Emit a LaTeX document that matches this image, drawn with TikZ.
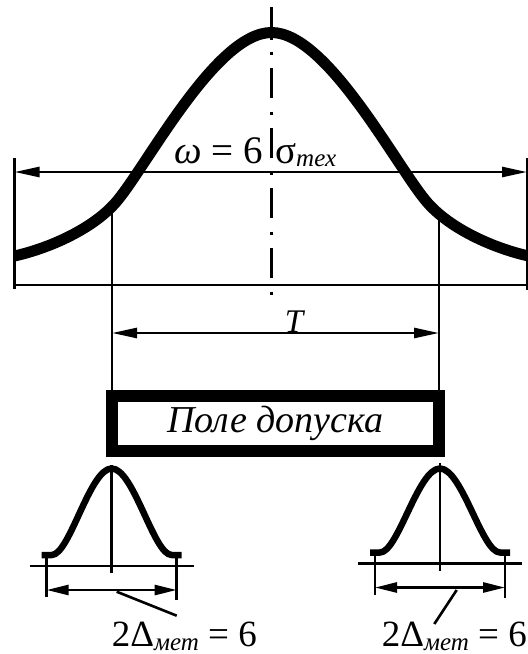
\documentclass[tikz,border=0pt]{standalone}
\usepackage{fontspec}
\setmainfont{Liberation Serif}
\usetikzlibrary{arrows.meta,positioning,calc}
\tikzset{
  thinln/.style={line width=2.6pt},
  bell/.style={line width=11pt, line join=round},
  smallbell/.style={line width=6.5pt, line join=round},
  dimarr/.style={thinln, {Triangle[length=25pt,width=10pt]}-{Triangle[length=25pt,width=10pt]}},
  smallarr/.style={thinln, {Triangle[length=22pt,width=10pt]}-{Triangle[length=22pt,width=10pt]}},
  axisln/.style={line width=2.7pt, dash pattern=on 3pt off 13.5pt on 30pt off 13.5pt},
  fieldbox/.style={draw, line width=11.5pt, minimum width=327pt, minimum height=55pt,
    inner sep=0pt, font=\fontsize{38}{38}\selectfont\itshape},
  biglbl/.style={inner sep=0pt, font=\fontsize{39}{39}\selectfont},
  lbl/.style={inner sep=0pt, anchor=base west, font=\fontsize{37}{37}\selectfont},
}
\newcommand{\subtxt}[1]{\raisebox{-3.3pt}{\fontsize{25}{25}\selectfont\itshape #1}}

\begin{document}
\begin{tikzpicture}[x=1pt,y=-1pt]
  \useasboundingbox (0,0) rectangle (528,654);
  % main distribution
  \coordinate (axtop) at (271.5,7);
  \coordinate (axmid) at (271.5,40);
  \coordinate (axdot) at (271.5,51.5);
  \coordinate (axbot) at (271.5,295);
  \coordinate (kneeL) at (112,206.5);
  \coordinate (kneeR) at (439,215);
  \draw[thinln] (axtop) -- (axmid);
  \draw[axisln] (axdot) -- (axbot);
  \draw[bell] (14.5,256) .. controls (50,248) and (92,229) .. (115,203.3)
      .. controls (145,169.7) and (215,32.5) .. (271.5,32.5)
      .. controls (328,32.5) and (398,169.7) .. (428,203.3)
      .. controls (451,229) and (493,248) .. (528.5,256);
  % omega = 6 sigma
  \coordinate (wLt) at (14.5,158);
  \coordinate (wLb) at (14.5,289);
  \coordinate (wRt) at (527,158);
  \coordinate (wRb) at (527,290);
  \draw[thinln] (wLt) -- (wLb);
  \draw[thinln] (wRt) -- (wRb);
  \draw[dimarr] (wLt |- 0,172) -- (wRt |- 0,172);
  \draw[thinln] (wLt |- 0,285) -- (528,285);
  \node[biglbl, anchor=base east] (omega) at (263,163.3) {{\itshape ω} = 6};
  \node[biglbl, anchor=base west] (sigma) at (275,163.3) {σ\subtxt{тех}};
  % tolerance field
  \node[fieldbox] (field) at (275.5,423.5) {Поле допуска};
  \draw[thinln] (kneeL) -- (kneeL |- field.north);
  \draw[thinln] (kneeR) -- (kneeR |- field.north);
  \draw[dimarr] (kneeL |- 0,333) -- (kneeR |- 0,333);
  \node[inner sep=0pt, anchor=base, font=\fontsize{33}{33}\selectfont\itshape] (tol) at (294,332) {T};
  % measuring error at both limits
  \foreach \c/\dy/\ax/\ay/\bx/\by/\lx/\t in {
      111.7/0/5/591.7/65/615.7/111.7/L,
      440/-2.5/16.7/590/-5.7/624/381.7/R} {
    \coordinate (pk\t) at (\c,465+\dy);
    \coordinate (ab\t) at (\c,573+\dy);
    \draw[thinln] (pk\t) -- (ab\t);
    \draw[smallbell] (\c-70,555+\dy) -- (\c-60,555+\dy)
        .. controls (\c-42,555+\dy) and (\c-22,468.5) .. (\c,468.5)
        .. controls (\c+22,468.5) and (\c+42,555+\dy) .. (\c+60,555+\dy) -- (\c+70,555+\dy);
    \draw[thinln] (\c-82,566+\dy) -- (\c+82,566+\dy);
    \coordinate (dl\t) at (\c-65,556+\dy);
    \coordinate (dr\t) at (\c+65,556+\dy);
    \draw[thinln] (dl\t) -- ++(0,41);
    \draw[thinln] (dr\t) -- ++(0,44);
    \draw[smallarr] (dl\t |- 0,590+\dy) -- (dr\t |- 0,590+\dy);
    \coordinate (la\t) at (\c+\ax,\ay);
    \coordinate (lb\t) at (\c+\bx,\by);
    \draw[thinln] (la\t) -- (lb\t);
    \node[lbl] (delta\t) at (\lx,646.7) {2Δ\subtxt{мет} = 6};
  }
\end{tikzpicture}
\end{document}
